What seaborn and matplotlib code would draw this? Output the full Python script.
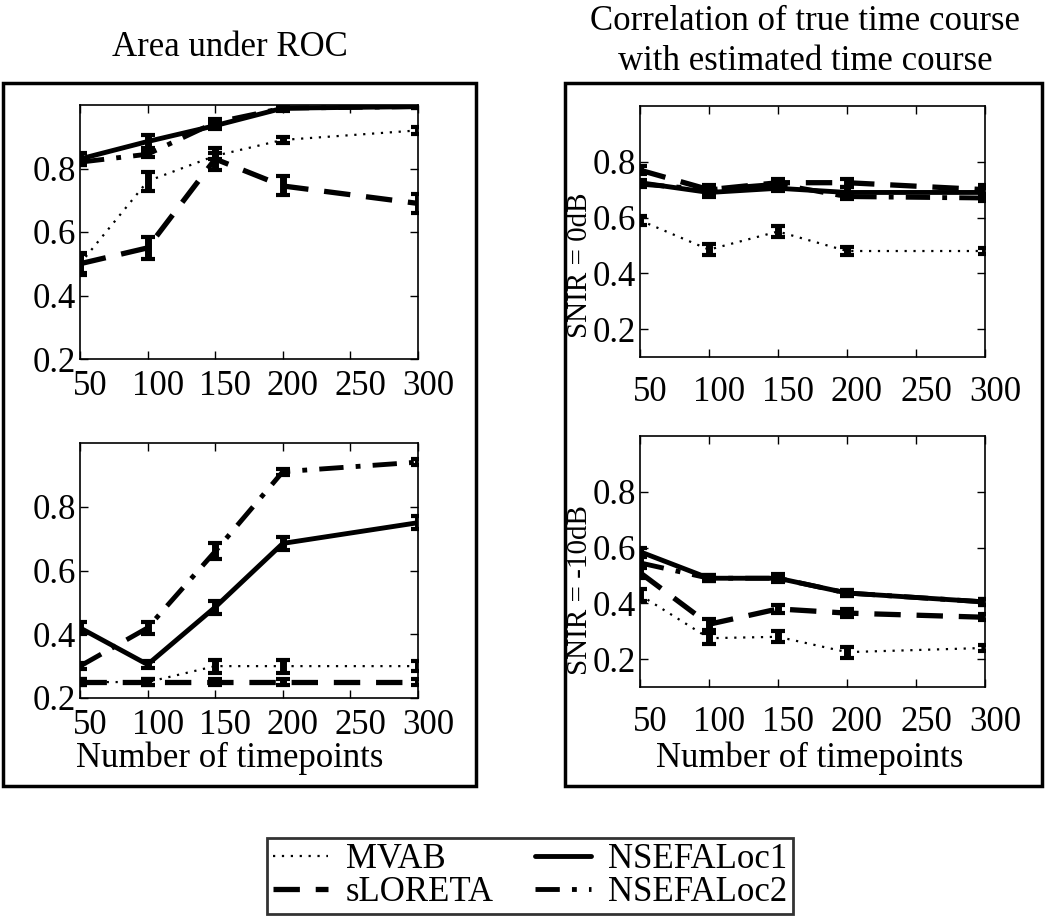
import numpy as np
import pandas as pd
import matplotlib
matplotlib.use('Agg')
import matplotlib.pyplot as plt
import matplotlib.transforms as mtransforms
from matplotlib.patches import Rectangle
from matplotlib.lines import Line2D
import seaborn as sns

sns.set_style('ticks')
plt.rcParams['font.family'] = ['Liberation Serif', 'DejaVu Serif']
plt.rcParams['text.color'] = 'black'
plt.rcParams['xtick.color'] = 'black'
plt.rcParams['ytick.color'] = 'black'
plt.rcParams['axes.edgecolor'] = 'black'

# number of timepoints
timepoints = [50, 100, 150, 200, 300]
methods = ['MVAB', 'sLORETA', 'NSEFALoc1', 'NSEFALoc2']

# Area under ROC, SNIR = 0dB
auc_0db_mvab = [0.50, 0.76, 0.84, 0.89, 0.92]
auc_0db_sloreta = [0.50, 0.55, 0.83, 0.745, 0.69]
auc_0db_nsef1 = [0.83, 0.885, 0.935, 0.99, 0.995]
auc_0db_nsef2 = [0.82, 0.845, 0.945, 0.99, 0.995]
# Area under ROC, SNIR = -10dB
auc_10db_mvab = [0.25, 0.25, 0.30, 0.30, 0.30]
auc_10db_sloreta = [0.25, 0.25, 0.25, 0.25, 0.25]
auc_10db_nsef1 = [0.42, 0.305, 0.485, 0.685, 0.75]
auc_10db_nsef2 = [0.30, 0.42, 0.66, 0.91, 0.94]
# correlation, SNIR = 0dB
cor_0db_mvab = [0.59, 0.485, 0.55, 0.48, 0.48]
cor_0db_sloreta = [0.77, 0.70, 0.725, 0.725, 0.70]
cor_0db_nsef1 = [0.725, 0.69, 0.705, 0.69, 0.69]
cor_0db_nsef2 = [0.72, 0.70, 0.72, 0.675, 0.67]
# correlation, SNIR = -10dB
cor_10db_mvab = [0.43, 0.275, 0.28, 0.225, 0.24]
cor_10db_sloreta = [0.51, 0.325, 0.38, 0.365, 0.35]
cor_10db_nsef1 = [0.585, 0.49, 0.49, 0.437, 0.405]
cor_10db_nsef2 = [0.545, 0.49, 0.49, 0.437, 0.405]

# half-widths of the error bars
err_auc_0db = [[0.03, 0.03, 0.01, 0.01, 0.01], [0.035, 0.035, 0.035, 0.03, 0.03],
               [0.02, 0.02, 0.01, 0.01, 0.005], [0.01, 0.01, 0.01, 0.005, 0.005]]
err_auc_10db = [[0.01, 0.01, 0.02, 0.02, 0.015], [0.01, 0.01, 0.01, 0.01, 0.01],
                [0.02, 0.01, 0.02, 0.02, 0.02], [0.01, 0.02, 0.025, 0.01, 0.01]]
err_cor_0db = [[0.015, 0.02, 0.02, 0.015, 0.01], [0.015, 0.015, 0.015, 0.015, 0.015],
               [0.01, 0.015, 0.01, 0.02, 0.015], [0.01, 0.01, 0.015, 0.01, 0.01]]
err_cor_10db = [[0.02, 0.02, 0.02, 0.02, 0.01], [0.02, 0.02, 0.015, 0.015, 0.01],
                [0.015, 0.01, 0.01, 0.01, 0.01], [0.02, 0.01, 0.015, 0.01, 0.01]]

styles = {
    'MVAB': dict(ls=(0, (1, 3)), lw=1.6),
    'sLORETA': dict(ls=(0, (5, 3)), lw=3.8),
    'NSEFALoc1': dict(ls='-', lw=3.5),
    'NSEFALoc2': dict(ls=(0, (5, 2.5, 1, 2.5)), lw=3.5),
}

W, H = 1050, 916
fig = plt.figure(figsize=(W / 100, H / 100), dpi=100)


def px_axes(l, t, r, b):
    return fig.add_axes([l / W, 1 - b / H, (r - l) / W, (b - t) / H])


def draw_panel(ax, series, errs, ylim, xpad):
    rows = []
    for m, vals in zip(methods, series):
        for x, v in zip(timepoints, vals):
            rows.append({'n': x, 'value': v, 'method': m})
    df = pd.DataFrame(rows)
    for m, e in zip(methods, errs):
        d = df[df['method'] == m]
        sns.lineplot(data=d, x='n', y='value', ax=ax, color='black',
                     linestyle=styles[m]['ls'], linewidth=styles[m]['lw'],
                     legend=False, zorder=3)
        ax.errorbar(d['n'], d['value'], yerr=e, fmt='none', ecolor='black',
                    elinewidth=5, capsize=5, capthick=3, zorder=4)
    ax.set_xlim(50, 300)
    ax.set_ylim(*ylim)
    ax.set_xticks([50, 100, 150, 200, 250, 300])
    ax.set_yticks([0.2, 0.4, 0.6, 0.8])
    ax.set_yticklabels(['0.2', '0.4', '0.6', '0.8'])
    ax.set_xlabel('')
    ax.set_ylabel('')
    ax.tick_params(direction='in', top=True, right=True, length=6, width=1,
                   labelsize=25, color='black', labelcolor='black')
    ax.tick_params(axis='x', pad=xpad)
    ax.tick_params(axis='y', pad=3)
    for s in ax.spines.values():
        s.set_linewidth(1.2)
        s.set_color('black')
    off = mtransforms.ScaledTranslation(10 / 100, 0, fig.dpi_scale_trans)
    for lab in ax.get_xticklabels():
        lab.set_transform(lab.get_transform() + off)


ax1 = px_axes(80, 105, 418, 359)
draw_panel(ax1, [auc_0db_mvab, auc_0db_sloreta, auc_0db_nsef1, auc_0db_nsef2],
           err_auc_0db, (0.2, 1.0), 8)
ax2 = px_axes(80, 443, 418, 698)
draw_panel(ax2, [auc_10db_mvab, auc_10db_sloreta, auc_10db_nsef1, auc_10db_nsef2],
           err_auc_10db, (0.2, 1.0), 8)
ax3 = px_axes(640, 106, 985, 357)
draw_panel(ax3, [cor_0db_mvab, cor_0db_sloreta, cor_0db_nsef1, cor_0db_nsef2],
           err_cor_0db, (0.1, 1.0), 14)
ax4 = px_axes(640, 436, 985, 687)
draw_panel(ax4, [cor_10db_mvab, cor_10db_sloreta, cor_10db_nsef1, cor_10db_nsef2],
           err_cor_10db, (0.1, 1.0), 14)

# frames around the two column groups
for l, t, r, b in [(3, 83, 476, 786), (565, 83, 1042, 786)]:
    fig.add_artist(Rectangle((l / W, 1 - b / H), (r - l) / W, (b - t) / H,
                             transform=fig.transFigure, fill=False,
                             edgecolor='black', linewidth=2.5))

fig.text(230 / W, 1 - 48 / H, 'Area under ROC', ha='center', va='center', fontsize=25)
fig.text(805 / W, 1 - 22 / H, 'Correlation of true time course', ha='center',
         va='center', fontsize=25)
fig.text(805 / W, 1 - 62 / H, 'with estimated time course', ha='center',
         va='center', fontsize=25)
fig.text(230 / W, 1 - 758 / H, 'Number of timepoints', ha='center', va='center', fontsize=25)
fig.text(810 / W, 1 - 758 / H, 'Number of timepoints', ha='center', va='center', fontsize=25)
fig.text(580 / W, 1 - 265 / H, 'SNIR = 0dB', ha='center', va='center',
         rotation=90, fontsize=21)
fig.text(580 / W, 1 - 590 / H, 'SNIR = -10dB', ha='center', va='center',
         rotation=90, fontsize=21)

handles = [Line2D([], [], color='black', linestyle=styles[m]['ls'],
                  linewidth=styles[m]['lw']) for m in methods]
leg = fig.legend(handles, methods, loc='center', ncol=2,
                 bbox_to_anchor=(530 / W, 1 - 876 / H), fontsize=25,
                 frameon=True, fancybox=False, edgecolor='black',
                 handlelength=1.6, handletextpad=0.5, columnspacing=1.2,
                 labelspacing=0.0, borderpad=0.15)
leg.get_frame().set_linewidth(2)

fig.savefig('out.png', dpi=100)
